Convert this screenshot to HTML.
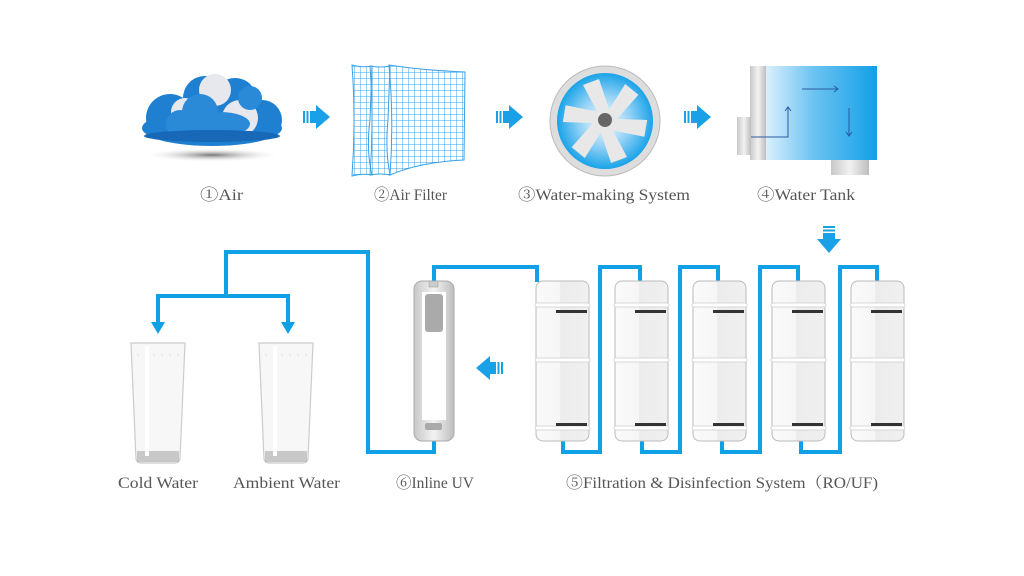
<!DOCTYPE html>
<html><head><meta charset="utf-8"><style>
html,body{margin:0;padding:0;background:#fff;width:1024px;height:576px;overflow:hidden}
svg{display:block}
text{font-family:"Liberation Serif","Noto Serif CJK SC",serif;font-size:16px;fill:#555}
</style></head><body>
<svg width="1024" height="576" viewBox="0 0 1024 576" xmlns="http://www.w3.org/2000/svg">
<defs>
<pattern id="grid" width="6" height="6" patternUnits="userSpaceOnUse">
<path d="M0 0H6M0 0V6" stroke="#3aa0e8" stroke-width="1" fill="none"/>
</pattern>
<linearGradient id="tank" x1="0" x2="1"><stop offset="0" stop-color="#fff"/><stop offset="0.5" stop-color="#6cc3f2"/><stop offset="1" stop-color="#12a0e8"/></linearGradient>
<linearGradient id="metal" x1="0" x2="1"><stop offset="0" stop-color="#c8c8c8"/><stop offset="0.5" stop-color="#f2f2f2"/><stop offset="1" stop-color="#bdbdbd"/></linearGradient>
<radialGradient id="fan"><stop offset="0" stop-color="#fff"/><stop offset="0.55" stop-color="#8fd0f5"/><stop offset="1" stop-color="#1aa3e8"/></radialGradient>
<radialGradient id="shadow"><stop offset="0" stop-color="#777"/><stop offset="1" stop-color="#fff" stop-opacity="0"/></radialGradient>
<linearGradient id="cyl" x1="0" x2="1"><stop offset="0" stop-color="#fafafa"/><stop offset="0.45" stop-color="#f6f6f6"/><stop offset="0.46" stop-color="#ececec"/><stop offset="1" stop-color="#f0f0f0"/></linearGradient>
<g id="arrowR"><rect x="0" y="4" width="2" height="12" fill="#1aa0e6"/><rect x="3.5" y="4" width="2" height="12" fill="#1aa0e6"/><rect x="7" y="4" width="6" height="12" fill="#1aa0e6"/><polygon points="13,-2 27,10 13,22" fill="#1aa0e6"/></g>
<g id="cart">
<rect x="0" y="0" width="53" height="160" rx="7" fill="url(#cyl)" stroke="#bbb" stroke-width="1"/>
<rect x="-1" y="22" width="55" height="4" rx="2" fill="#fff" stroke="#ccc" stroke-width="0.8"/>
<rect x="-1" y="77" width="55" height="4" rx="2" fill="#fff" stroke="#ccc" stroke-width="0.8"/>
<rect x="-1" y="145" width="55" height="4" rx="2" fill="#fff" stroke="#ccc" stroke-width="0.8"/>
<rect x="20" y="29" width="31" height="3" fill="#333"/>
<rect x="20" y="142" width="31" height="3" fill="#333"/>
</g>
<g id="glass">
<path d="M0 0H54L49 116Q48 120 44 120H10Q6 120 5 116Z" fill="#f7f7f7" stroke="#ccc" stroke-width="1.2"/>
<path d="M6 12H48" stroke="#ddd" stroke-dasharray="2 6"/>
<rect x="6" y="108" width="42" height="11" fill="#999" opacity="0.5"/>
<rect x="14" y="3" width="4" height="110" fill="#fff"/>
</g>
</defs>

<!-- cloud -->
<ellipse cx="212" cy="155" rx="70" ry="7" fill="url(#shadow)"/>
<g fill="#1f7fd0">
<circle cx="170" cy="118" r="24"/><circle cx="205" cy="98" r="22"/><circle cx="235" cy="100" r="22"/><circle cx="262" cy="120" r="20"/>
<ellipse cx="212" cy="128" rx="70" ry="18"/>
</g>
<g fill="#e6e8ee"><circle cx="215" cy="90" r="16"/><circle cx="240" cy="118" r="18"/><circle cx="185" cy="112" r="14"/></g>
<g fill="#2a8ad8"><circle cx="200" cy="112" r="18"/><ellipse cx="220" cy="124" rx="30" ry="12"/><circle cx="250" cy="98" r="12"/><circle cx="180" cy="124" r="14"/></g>
<ellipse cx="212" cy="136" rx="68" ry="6" fill="#1769b8"/>

<use href="#arrowR" x="303" y="107"/>
<!-- air filter -->
<path d="M352 65Q362 68 372 66L370 120Q366 150 372 175Q362 173 352 176Q356 120 352 65Z" fill="url(#grid)" stroke="#3aa0e8"/>
<path d="M370 66Q380 68 390 66L388 120Q385 150 390 175Q380 173 370 175Q374 120 370 66Z" fill="url(#grid)" stroke="#3aa0e8"/>
<path d="M389 65Q420 70 465 72L464 160Q420 162 390 175Q394 120 389 65Z" fill="url(#grid)" stroke="#3aa0e8"/>

<use href="#arrowR" x="496" y="107"/>
<!-- fan -->
<circle cx="605" cy="121" r="55" fill="#ddd" stroke="#bbb"/>
<circle cx="605" cy="121" r="48" fill="url(#fan)"/>
<g fill="#e8e8e8" transform="translate(605 121)">
<polygon points="-6,-6 -22,-36 -6,-42 6,-6" transform="rotate(0)"/>
<polygon points="-6,-6 -22,-36 -6,-42 6,-6" transform="rotate(60)"/>
<polygon points="-6,-6 -22,-36 -6,-42 6,-6" transform="rotate(120)"/>
<polygon points="-6,-6 -22,-36 -6,-42 6,-6" transform="rotate(180)"/>
<polygon points="-6,-6 -22,-36 -6,-42 6,-6" transform="rotate(240)"/>
<polygon points="-6,-6 -22,-36 -6,-42 6,-6" transform="rotate(300)"/>
</g>
<circle cx="605" cy="120" r="7" fill="#666"/>

<use href="#arrowR" x="684" y="107"/>
<!-- tank -->
<rect x="750" y="66" width="127" height="94" fill="url(#tank)"/>
<rect x="750" y="66" width="16" height="94" fill="url(#metal)"/>
<rect x="737" y="117" width="14" height="38" fill="url(#metal)"/>
<rect x="831" y="160" width="38" height="15" fill="url(#metal)"/>
<g stroke="#2a5aa0" stroke-width="1" fill="none">
<path d="M751 137H788V107M785 111L788 107L791 111"/>
<path d="M802 89H838M834 86L838 89L834 92"/>
<path d="M849 108V136M846 132L849 136L852 132"/>
</g>

<!-- down arrow -->
<g transform="translate(829 226) rotate(90)"><use href="#arrowR" x="0" y="-10"/></g>
<!-- left arrow -->
<g transform="translate(503 378) rotate(180)"><use href="#arrowR" x="0" y="0"/></g>

<!-- pipes -->
<g stroke="#10a0e6" stroke-width="4" fill="none">
<path d="M434 283V267H537V282"/>
<path d="M563 440V452H600V267H640V282"/>
<path d="M642 440V452H680V267H718V282"/>
<path d="M722 440V452H760V267H798V282"/>
<path d="M801 440V452H840V267H877V282"/>
<path d="M434 440V452H368V252H226V296M158 323V296H288V323"/>
</g>
<polygon points="151,322 165,322 158,334" fill="#10a0e6"/>
<polygon points="281,322 295,322 288,334" fill="#10a0e6"/>

<!-- UV -->
<rect x="414" y="281" width="40" height="160" rx="8" fill="url(#metal)" stroke="#aaa"/>
<rect x="422" y="292" width="24" height="128" fill="#fff"/>
<rect x="429" y="281" width="9" height="6" fill="#ccc" stroke="#999" stroke-width="0.5"/>
<rect x="425" y="294" width="18" height="38" rx="3" fill="#aaa"/>
<rect x="425" y="423" width="17" height="7" rx="2" fill="#aaa"/>

<!-- cartridges -->
<use href="#cart" x="536" y="281"/>
<use href="#cart" x="615" y="281"/>
<use href="#cart" x="693" y="281"/>
<use href="#cart" x="772" y="281"/>
<use href="#cart" x="851" y="281"/>

<!-- glasses -->
<use href="#glass" x="131" y="343"/>
<use href="#glass" x="259" y="343"/>

<!-- labels -->
<g>
<text x="200" y="200" textLength="43" lengthAdjust="spacingAndGlyphs">①Air</text>
<text x="374" y="200" textLength="73" lengthAdjust="spacingAndGlyphs">②Air Filter</text>
<text x="518" y="200" textLength="172" lengthAdjust="spacingAndGlyphs">③Water-making System</text>
<text x="757" y="200" textLength="98" lengthAdjust="spacingAndGlyphs">④Water Tank</text>
<text x="118" y="488" textLength="80" lengthAdjust="spacingAndGlyphs">Cold Water</text>
<text x="233" y="488" textLength="107" lengthAdjust="spacingAndGlyphs">Ambient Water</text>
<text x="396" y="488" textLength="78" lengthAdjust="spacingAndGlyphs">⑥Inline UV</text>
<text x="566" y="488" textLength="312" lengthAdjust="spacingAndGlyphs">⑤Filtration &amp; Disinfection System（RO/UF)</text>
</g>
</svg>
</body></html>
